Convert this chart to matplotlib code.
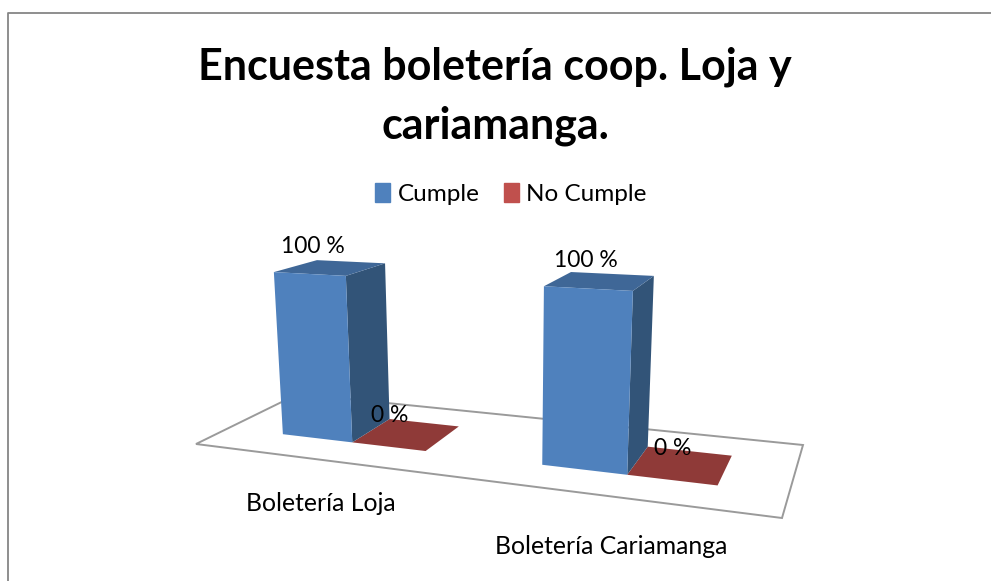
import matplotlib
matplotlib.use("Agg")
import matplotlib.pyplot as plt
from matplotlib.patches import Patch
import numpy as np

categories = ["Boletería Loja", "Boletería Cariamanga"]
series_names = ["Cumple", "No Cumple"]
cumple = [100, 100]
no_cumple = [0, 0]
value_labels = ["100 %", "0 %"]

# colours per series: front, side, top
colors_cumple = ("#4f81bd", "#325478", "#3f6797")
colors_no = ("#c0504d", "#7f3331", "#8f3a38")
legend_colors = ["#4f81bd", "#c0504d"]
grey = "#868686"

# floor corners in pixels: front left, front right, back right, back left
floor = np.array([[196, 444], [782, 518], [803, 445], [298, 394]], dtype=float)
vanish = np.array([505.0, 4430.0])  # where the bar verticals meet
height_scale = -0.0004

bar_w = 0.142     # width of one bar on the floor
v_front = 0.29
v_back = 0.72


def floor_matrix(c):
    # homography from the unit square to the floor corners
    src = [(0, 0), (1, 0), (1, 1), (0, 1)]
    A, b = [], []
    for (u, v), (x, y) in zip(src, c):
        A.append([u, v, 1, 0, 0, 0, -u * x, -v * x])
        A.append([0, 0, 0, u, v, 1, -u * y, -v * y])
        b += [x, y]
    h = np.linalg.solve(np.array(A), np.array(b))
    return np.append(h, 1).reshape(3, 3)


H = floor_matrix(floor)


def project(u, v, h=0):
    p = H @ np.array([u, v, 1.0]) + h * height_scale * np.array([vanish[0], vanish[1], 1.0])
    return p[0] / p[2], p[1] / p[2]


fig = plt.figure(figsize=(9.91, 5.81), dpi=100)
ax = fig.add_axes([0, 0, 1, 1])
ax.set_xlim(0, 991)
ax.set_ylim(581, 0)
ax.axis("off")

# chart frame, only left and top are in view
ax.plot([8, 8, 991], [581, 13, 13], color=grey, lw=1.3)

ax.text(495, 96, "Encuesta boletería coop. Loja y\ncariamanga.", ha="center", va="center",
        fontsize=31, fontweight="bold", family="Lato", linespacing=1.55, color="black")

# floor
ax.fill(*zip(*[project(u, v) for u, v in [(0, 0), (1, 0), (1, 1), (0, 1)]]),
        facecolor="white", edgecolor="#9a9a9a", lw=1.4)


def draw_bar(u0, val, cols):
    u1 = u0 + bar_w
    front = [(u0, v_front, 0), (u1, v_front, 0), (u1, v_front, val), (u0, v_front, val)]
    side = [(u1, v_front, 0), (u1, v_back, 0), (u1, v_back, val), (u1, v_front, val)]
    top = [(u0, v_front, val), (u1, v_front, val), (u1, v_back, val), (u0, v_back, val)]
    for face, col in zip((side, top, front), (cols[1], cols[2], cols[0])):
        ax.fill(*zip(*[project(*p) for p in face]), color=col, lw=0)


label_offsets = [[(-18, -21.5), (-17, -18.5)], [(-14, -20.5), (-8, -17)]]
for i in range(2):
    centre = 0.258 + i * 0.494
    u_start = centre - bar_w
    draw_bar(u_start + bar_w, no_cumple[i], colors_no)
    draw_bar(u_start, cumple[i], colors_cumple)
    for j, val in enumerate((cumple[i], no_cumple[i])):
        x, y = project(u_start + (j + 0.5) * bar_w, (v_front + v_back) / 2, val)
        dx, dy = label_offsets[i][j]
        ax.text(x + dx, y + dy, value_labels[j], ha="center", va="center", fontsize=16.5, family="Lato")
    x, y = project(0.25 + i * 0.5, 0)
    ax.text(x + 1.5, y + (44 if i == 0 else 50), categories[i], ha="center", va="center",
            fontsize=17.8, family="Lato")

handles = [Patch(color=c, label=n) for c, n in zip(legend_colors, series_names)]
ax.legend(handles=handles, ncol=2, loc="center", bbox_to_anchor=(511 / 991, 1 - 194 / 581), frameon=False,
          prop={"family": "Lato", "size": 17.5}, handlelength=0.62, handleheight=0.85,
          handletextpad=0.3, columnspacing=1.0)

fig.savefig("out.png", dpi=100)
